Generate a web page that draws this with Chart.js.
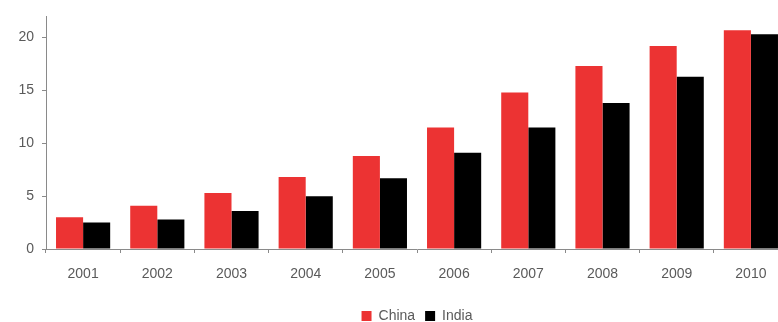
<!DOCTYPE html>
<html>
<head>
<meta charset="utf-8">
<script src="https://cdn.jsdelivr.net/npm/chart.js@4.4.1/dist/chart.umd.min.js"></script>
<style>
  html, body { margin: 0; padding: 0; background: #fff; overflow: hidden; }
  #wrap { width: 788px; height: 322px; position: relative; }
</style>
</head>
<body>
<div id="wrap"><canvas id="barChart"></canvas></div>
<script>
// 数据
const years = ['2001', '2002', '2003', '2004', '2005', '2006', '2007', '2008', '2009', '2010'];
const china = [3.0, 4.1, 5.3, 6.8, 8.8, 11.5, 14.8, 17.3, 19.2, 20.7];
const india = [2.5, 2.8, 3.6, 5.0, 6.7, 9.1, 11.5, 13.8, 16.3, 20.3];
const yTicks = [0, 5, 10, 15, 20];

const axisColor = '#8a8a8a';
const textColor = '#5a5a5a';

Chart.defaults.font.family = '"Liberation Sans", Arial, sans-serif';
Chart.defaults.font.size = 14;
Chart.defaults.color = textColor;

new Chart(document.getElementById('barChart'), {
    type: 'bar',
    data: {
        labels: years,
        datasets: [
            { label: 'China', data: china, backgroundColor: '#ec3333' },
            { label: 'India', data: india, backgroundColor: '#000000' }
        ]
    },
    options: {
        responsive: true,
        maintainAspectRatio: false,
        animation: false,
        layout: { padding: { top: 4, left: 0, right: 0, bottom: -11 } },
        datasets: { bar: { categoryPercentage: 0.73, barPercentage: 1.0 } },
        plugins: {
            legend: {
                position: 'bottom',
                fullSize: false,
                labels: { boxWidth: 10, boxHeight: 10, padding: 10, color: textColor }
            },
            tooltip: { enabled: false }
        },
        scales: {
            x: {
                grid: { drawOnChartArea: false, drawTicks: true, tickLength: 4, color: axisColor, offset: true },
                border: { display: true, color: axisColor },
                ticks: { padding: 13, color: textColor },
                afterFit: s => { s.height = 50; }
            },
            y: {
                min: 0,
                max: 22,
                afterBuildTicks: s => { s.ticks = yTicks.map(v => ({ value: v })); },
                grid: { drawOnChartArea: false, drawTicks: true, tickLength: 4, color: axisColor },
                border: { display: true, color: axisColor },
                ticks: { padding: 8, color: textColor },
                afterFit: s => { s.width = 46; }
            }
        }
    }
});
</script>
</body>
</html>
